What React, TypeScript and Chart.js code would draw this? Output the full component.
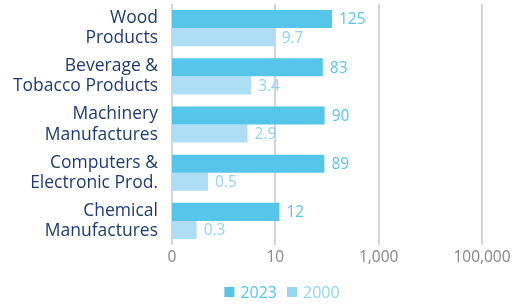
import React, { useEffect, useRef } from 'react';
import { Chart, registerables } from 'chart.js';

Chart.register(...registerables);

const categories: string[][] = [
  ['Wood', 'Products'],
  ['Beverage &', 'Tobacco Products'],
  ['Machinery', 'Manufactures'],
  ['Computers &', 'Electronic Prod.'],
  ['Chemical', 'Manufactures'],
];
const values2023 = [125, 83, 90, 89, 12];
const values2000 = [9.7, 3.4, 2.9, 0.5, 0.3];
const seriesLabels = ['2023', '2000'];
const tickValues = [0.1, 10, 1000, 100000];

const FONT = "'Open Sans', sans-serif";
const barColors = ['#55C5EA', '#ADDEF3'];
const labelColors = ['#55C5EA', '#8FD5F0'];
const legendBoxColors = ['#55C5EA', '#95D7F1'];

const valueLabelPlugin = {
  id: 'valueLabels',
  afterDatasetsDraw(chart: any) {
    const ctx = chart.ctx;
    ctx.save();
    ctx.font = `15.5px ${FONT}`;
    ctx.textBaseline = 'middle';
    ctx.textAlign = 'left';
    chart.data.datasets.forEach((ds: any, di: number) => {
      const meta = chart.getDatasetMeta(di);
      ctx.fillStyle = labelColors[di];
      meta.data.forEach((el: any, i: number) => {
        ctx.fillText(String(ds.data[i]), el.x + 7, el.y + 1);
      });
    });
    ctx.restore();
  },
};

const legendPlugin = {
  id: 'customLegend',
  afterDraw(chart: any) {
    const ctx = chart.ctx;
    ctx.save();
    ctx.font = `16px ${FONT}`;
    ctx.textBaseline = 'middle';
    ctx.textAlign = 'left';
    const box = 10;
    const gap = 6;
    const spacing = 10;
    const widths = seriesLabels.map((l) => ctx.measureText(l).width);
    const total = widths.reduce((a, w) => a + box + gap + w, 0) + spacing * (seriesLabels.length - 1);
    const cy = 292;
    let x = 282 - total / 2;
    seriesLabels.forEach((l, i) => {
      ctx.fillStyle = legendBoxColors[i];
      ctx.fillRect(x, cy - box / 2, box, box);
      x += box + gap;
      ctx.fillStyle = labelColors[i];
      ctx.fillText(l, x, cy + 1);
      x += widths[i] + spacing;
    });
    ctx.restore();
  },
};

export default function App() {
  const ref = useRef<HTMLCanvasElement | null>(null);
  useEffect(() => {
    document.body.style.margin = '0';
    const canvas = ref.current;
    if (!canvas) return;
    const chart = new Chart(canvas, {
      type: 'bar',
      data: {
        labels: categories,
        datasets: [
          {
            label: seriesLabels[0],
            data: values2023,
            backgroundColor: barColors[0],
            categoryPercentage: 0.75,
            barPercentage: 1,
          },
          {
            label: seriesLabels[1],
            data: values2000,
            backgroundColor: barColors[1],
            categoryPercentage: 0.75,
            barPercentage: 1,
          },
        ],
      },
      options: {
        indexAxis: 'y',
        responsive: false,
        animation: false,
        layout: { padding: { top: 4, right: 34, bottom: 32, left: 0 } },
        plugins: {
          legend: { display: false },
          tooltip: { enabled: false },
        },
        scales: {
          x: {
            type: 'logarithmic',
            min: 0.1,
            max: 100000,
            afterBuildTicks: (scale: any) => {
              scale.ticks = tickValues.map((v) => ({ value: v }));
            },
            afterFit: (scale: any) => {
              scale.height = 28;
              scale.paddingLeft = 0;
              scale.paddingRight = 0;
            },
            border: { display: false },
            grid: { color: '#D3D3E6', lineWidth: 2, drawTicks: false },
            ticks: {
              padding: 3,
              autoSkip: false,
              maxRotation: 0,
              color: '#858585',
              font: { family: FONT, size: 15.5 },
              callback: (v: any) => (Number(v) === 0.1 ? '0' : Number(v).toLocaleString('en-US')),
            },
          },
          y: {
            afterFit: (scale: any) => {
              scale.width = 172;
              scale.paddingTop = 0;
              scale.paddingBottom = 0;
            },
            border: { display: false },
            grid: { display: false, drawTicks: false },
            ticks: {
              autoSkip: false,
              padding: 14,
              color: '#1F3B73',
              font: { family: FONT, size: 17.5, lineHeight: 1.15 },
            },
          },
        },
      },
      plugins: [valueLabelPlugin, legendPlugin],
    } as any);
    return () => chart.destroy();
  }, []);
  return (
    <div style={{ width: 516, height: 305 }}>
      <canvas ref={ref} width={516} height={305} style={{ display: 'block' }} />
    </div>
  );
}
